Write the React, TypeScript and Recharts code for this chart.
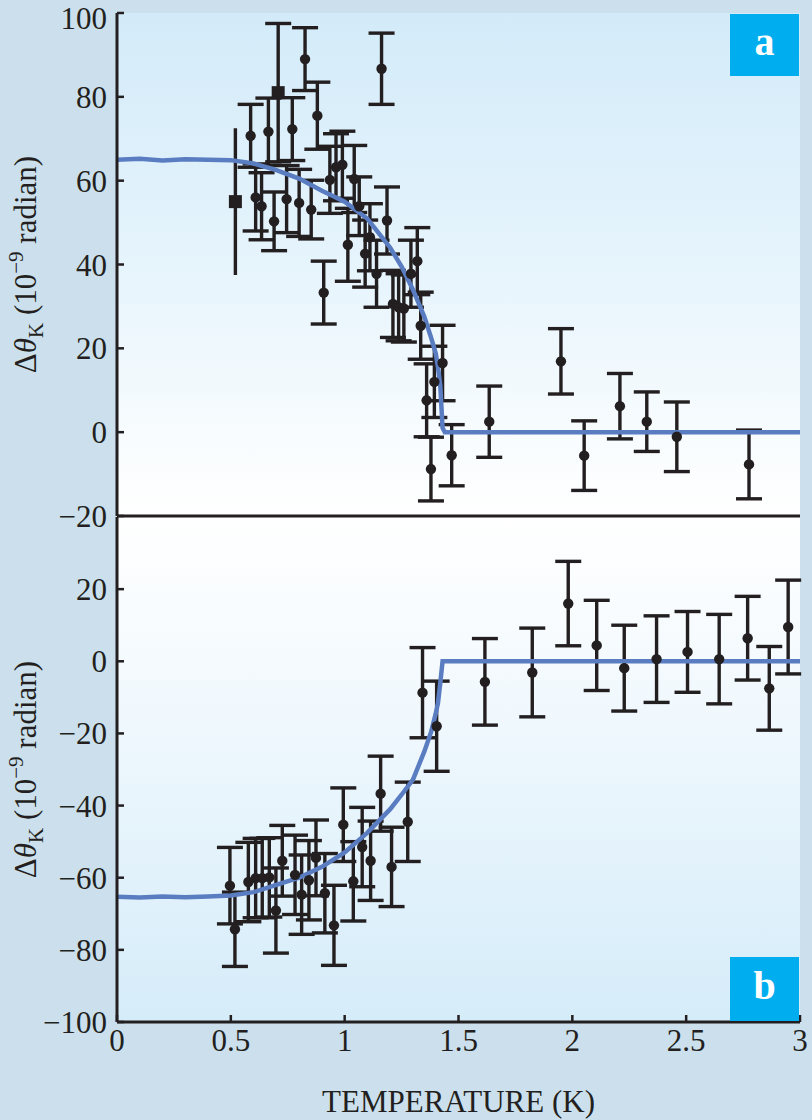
import React from "react";
import { ComposedChart, Scatter, Line, XAxis, YAxis, ErrorBar } from "recharts";

const INK = "#231f20";
const BLUE = "#5a7dc2";
const FONT = "Liberation Serif, DejaVu Serif, serif";

const tempTicks = [0, 0.5, 1, 1.5, 2, 2.5, 3];
const topTicks = [-20, 0, 20, 40, 60, 80, 100];
const bottomTicks = [-100, -80, -60, -40, -20, 0, 20];

// panel a: measured points (temperature K, signal, error)
const topT = [0.587, 0.609, 0.635, 0.665, 0.69, 0.745, 0.77, 0.8, 0.826, 0.853, 0.88, 0.908, 0.935, 0.962, 0.99, 1.014, 1.042, 1.064, 1.09, 1.111, 1.14, 1.162, 1.186, 1.212, 1.237, 1.26, 1.291, 1.319, 1.334, 1.36, 1.379, 1.394, 1.43, 1.47, 1.635, 1.95, 2.052, 2.209, 2.327, 2.459, 2.776];
const topVal = [70.7, 56, 53.9, 71.7, 50.3, 55.6, 72.3, 54.7, 89, 53.1, 75.5, 33.3, 60.2, 63.2, 63.8, 44.7, 60.4, 53.9, 42.6, 46.5, 37.8, 86.7, 50.5, 30.6, 29.8, 29.5, 37.8, 40.8, 25.4, 7.6, -8.8, 12, 16.5, -5.5, 2.5, 16.9, -5.6, 6.2, 2.5, -1.1, -7.7];
const topErr = [7.5, 8, 8, 8, 7, 8, 7.5, 8, 7.5, 7, 8, 7.5, 8, 8, 8, 8.7, 8, 7, 8, 8, 8, 8.5, 8, 8, 8, 8, 8, 8, 8, 8.7, 7.6, 8.5, 9, 7.3, 8.5, 7.8, 8.3, 7.8, 7.1, 8.3, 8.2];

// panel a: square markers
const sqOpenT = [0.52];
const sqOpenVal = [55];
const sqOpenErr = [17.5];
const sqCapT = [0.708];
const sqCapVal = [81];
const sqCapErr = [16.5];

// panel a: fit curve
const fitTopT = [0, 0.1, 0.2, 0.3, 0.4, 0.5, 0.6, 0.7, 0.8, 0.9, 1.0, 1.1, 1.2, 1.25, 1.3, 1.35, 1.38, 1.4, 1.41, 1.42, 1.43, 1.44, 2, 2.5, 3];
const fitTopVal = [65, 65.2, 64.8, 65.1, 65, 64.9, 64.1, 62.5, 60.5, 57.6, 55, 50.9, 44, 39.5, 34, 27.5, 22.5, 18.8, 15.5, 11, 1, 0, 0, 0, 0];

// panel b: measured points
const botT = [0.496, 0.518, 0.577, 0.609, 0.638, 0.669, 0.698, 0.726, 0.782, 0.811, 0.843, 0.874, 0.913, 0.953, 0.994, 1.038, 1.077, 1.114, 1.158, 1.206, 1.277, 1.342, 1.404, 1.616, 1.824, 1.982, 2.107, 2.228, 2.37, 2.506, 2.645, 2.77, 2.865, 2.948];
const botVal = [-62.2, -74.3, -61.2, -60.1, -60.1, -59.9, -69.1, -55.3, -59.2, -64.7, -60.7, -54.5, -64.3, -73.2, -45.3, -61, -51.5, -55.3, -36.7, -57, -44.5, -8.7, -18, -5.7, -3.1, 16, 4.4, -1.9, 0.6, 2.6, 0.6, 6.4, -7.5, 9.5];
const botErr = [10.6, 10.3, 11, 11, 11, 11, 11.8, 9.8, 11, 11, 11, 10.5, 11, 11.1, 10.2, 11, 11, 11, 10.4, 11, 11, 12.5, 12.5, 12, 12.3, 11.7, 12.5, 11.9, 12, 11.2, 12.4, 11.6, 11.6, 13];

// panel b: fit curve
const fitBotT = [0, 0.1, 0.2, 0.3, 0.4, 0.5, 0.6, 0.7, 0.8, 0.9, 1.0, 1.1, 1.2, 1.25, 1.3, 1.35, 1.38, 1.4, 1.41, 1.42, 1.43, 2, 2.5, 3];
const fitBotVal = [-65.3, -65.5, -65.2, -65.4, -65.2, -64.9, -64, -62, -60, -57, -53, -47.5, -41, -37, -32.8, -25, -19.5, -14.5, -11.5, -6, 0, 0, 0, 0];

const rows = (t: number[], v: number[], e?: number[]) =>
  t.map((x, i) => ({ x, y: v[i], e: e ? e[i] : 0 }));

const fmt = (v: number) => (v < 0 ? `\u2212${-v}` : `${v}`);

const Dot = (p: any) => <circle cx={p.cx} cy={p.cy} r={5.2} fill={INK} />;
const Square = (p: any) => <rect x={p.cx - 6.5} y={p.cy - 6.5} width={13} height={13} fill={INK} />;

const YTitle = (props: any) => {
  const vb = props.viewBox || { x: 0, y: 13, width: 117, height: 503 };
  const cx = 36;
  const cy = vb.y + vb.height / 2;
  return (
    <text
      x={cx}
      y={cy}
      transform={`rotate(-90, ${cx}, ${cy})`}
      textAnchor="middle"
      fontFamily={FONT}
      fontSize={31}
      fill={INK}
    >
      <tspan>Δ</tspan>
      <tspan fontStyle="italic">θ</tspan>
      <tspan fontSize={21} dy={7}>K</tspan>
      <tspan dy={-7}> (10</tspan>
      <tspan fontSize={21} dy={-13}>−9</tspan>
      <tspan dy={13}> radian)</tspan>
    </text>
  );
};

const tickStyle = { fontFamily: FONT, fontSize: 31, fill: INK };
const axisLine = { stroke: INK, strokeWidth: 3 };
const tickLine = { stroke: INK, strokeWidth: 2.5 };
const bar = { stroke: INK, strokeWidth: 3.4 };

const App = () => {
  return (
    <div style={{ position: "absolute", left: 0, top: 0, width: 812, height: 1120, background: "#cbe0ec", overflow: "hidden", fontFamily: FONT }}>
      <div style={{ position: "absolute", left: 117, top: 13, width: 683, height: 503, background: "linear-gradient(to bottom, #d3ebf9 0%, #e6f4fc 50%, #f8fcfe 85%, #ffffff 100%)" }} />
      <div style={{ position: "absolute", left: 117, top: 517, width: 683, height: 505, background: "linear-gradient(to bottom, #ffffff 0%, #f4fafe 30%, #e2f2fb 70%, #d5ecf9 100%)" }} />

      <div style={{ position: "absolute", left: 0, top: 0 }}>
        <ComposedChart width={812} height={546} margin={{ top: 13, right: 12, bottom: 0, left: 0 }} style={{ fontFamily: FONT }}>
          <XAxis dataKey="x" type="number" domain={[0, 3]} ticks={tempTicks} height={30}
            axisLine={axisLine} tickLine={tickLine} tickSize={-5} tick={false} />
          <XAxis xAxisId="t" orientation="top" type="number" domain={[0, 3]} ticks={tempTicks} height={0}
            axisLine={axisLine} tickLine={false} tick={false} />
          <YAxis type="number" domain={[-20, 100]} ticks={topTicks} width={117} allowDataOverflow
            axisLine={axisLine} tickLine={tickLine} tickSize={-7} tickMargin={17} fontFamily={FONT}
            tick={tickStyle} tickFormatter={fmt} label={<YTitle />} />
          <YAxis yAxisId="r" orientation="right" type="number" domain={[-20, 100]} width={0}
            axisLine={axisLine} tickLine={false} tick={false} />
          <Scatter data={rows(topT, topVal, topErr)} dataKey="y" shape={Dot} isAnimationActive={false}>
            <ErrorBar dataKey="e" direction="y" width={13} {...bar} isAnimationActive={false} />
          </Scatter>
          <Scatter data={rows(sqOpenT, sqOpenVal, sqOpenErr)} dataKey="y" shape={Square} isAnimationActive={false}>
            <ErrorBar dataKey="e" direction="y" width={0} {...bar} isAnimationActive={false} />
          </Scatter>
          <Scatter data={rows(sqCapT, sqCapVal, sqCapErr)} dataKey="y" shape={Square} isAnimationActive={false}>
            <ErrorBar dataKey="e" direction="y" width={13} {...bar} isAnimationActive={false} />
          </Scatter>
          <Line data={rows(fitTopT, fitTopVal)} dataKey="y" type="linear" stroke={BLUE} strokeWidth={4.5}
            dot={false} activeDot={false} isAnimationActive={false} />
        </ComposedChart>
      </div>

      <div style={{ position: "absolute", left: 0, top: 0 }}>
        <ComposedChart width={812} height={1120} margin={{ top: 517, right: 12, bottom: 0, left: 0 }} style={{ fontFamily: FONT }}>
          <XAxis dataKey="x" type="number" domain={[0, 3]} ticks={tempTicks} height={98}
            axisLine={axisLine} tickLine={tickLine} tickSize={-7} tickMargin={14} tick={tickStyle} fontFamily={FONT}
            label={{ value: "TEMPERATURE (K)", position: "insideBottom", offset: 8, fontFamily: FONT, fontSize: 31, fill: INK }} />
          <XAxis xAxisId="t" orientation="top" type="number" domain={[0, 3]} ticks={tempTicks} height={0}
            axisLine={axisLine} tickLine={tickLine} tickSize={-5} tick={false} />
          <YAxis type="number" domain={[-100, 40]} ticks={bottomTicks} width={117} allowDataOverflow
            axisLine={axisLine} tickLine={tickLine} tickSize={-7} tickMargin={17} fontFamily={FONT}
            tick={tickStyle} tickFormatter={fmt} label={<YTitle />} />
          <YAxis yAxisId="r" orientation="right" type="number" domain={[-100, 40]} width={0}
            axisLine={axisLine} tickLine={false} tick={false} />
          <Scatter data={rows(botT, botVal, botErr)} dataKey="y" shape={Dot} isAnimationActive={false}>
            <ErrorBar dataKey="e" direction="y" width={13} {...bar} isAnimationActive={false} />
          </Scatter>
          <Line data={rows(fitBotT, fitBotVal)} dataKey="y" type="linear" stroke={BLUE} strokeWidth={4.5}
            dot={false} activeDot={false} isAnimationActive={false} />
        </ComposedChart>
      </div>

      <div style={{ position: "absolute", left: 730, top: 14, width: 69, height: 62, background: "#00aeef", color: "#fff", fontFamily: FONT, fontWeight: "bold", fontSize: 40, lineHeight: "56px", textAlign: "center" }}>a</div>
      <div style={{ position: "absolute", left: 730, top: 957, width: 69, height: 64, background: "#00aeef", color: "#fff", fontFamily: FONT, fontWeight: "bold", fontSize: 40, lineHeight: "58px", textAlign: "center" }}>b</div>
    </div>
  );
};

export default App;
